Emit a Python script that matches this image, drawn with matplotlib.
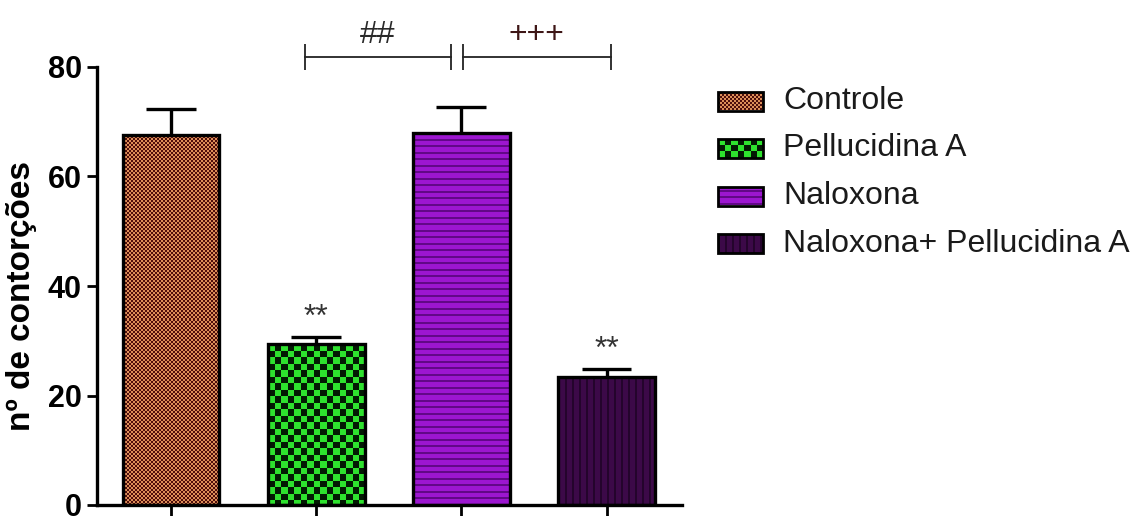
import numpy as np
import matplotlib
matplotlib.use("Agg")
import matplotlib.pyplot as plt
from matplotlib.patches import Rectangle

# ── data ──
groups = ["Controle", "Pellucidina A", "Naloxona", "Naloxona+ Pellucidina A"]
means = [67.6, 29.4, 68.0, 23.4]
sem = [4.7, 1.3, 4.7, 1.4]
stars = ["", "**", "", "**"]
# comparison brackets: (x start, x end, label)
brackets = [(0.92, 1.93, "##"), (2.01, 3.03, "+++")]
bracket_colors = ["#2a2a2a", "#3e1616"]
yticks = [0, 20, 40, 60, 80]
textures = ["check_fine", "check_big", "hlines", "vlines"]

BOLD_FONT = ["Liberation Sans Narrow", "Liberation Sans", "DejaVu Sans"]
TEXT_FONT = ["Liberation Sans", "DejaVu Sans"]


def texture_array(kind, w, h):
    """RGB pixel pattern used to fill a bar of w x h pixels."""
    r, c = np.mgrid[0:h, 0:w]
    img = np.zeros((h, w, 3))

    def put(mask, hexcol):
        img[mask] = np.array(matplotlib.colors.to_rgb(hexcol))

    if kind == "check_fine":
        m = ((r // 2 + c // 2) % 2) == 0
        put(m, "#dc8e58")
        put(~m, "#4e0e0c")
    elif kind == "check_big":
        m = ((np.floor(r / 6.5) + np.floor(c / 6.5)) % 2) == 0
        put(m, "#2ee22e")
        put(~m, "#031a03")
    elif kind == "hlines":
        m = (r % 6.5) < 1.6
        put(~m, "#9c16d0")
        put(m, "#620888")
    else:
        m = (c % 7) < 2
        put(~m, "#3c0948")
        put(m, "#24042c")
    return img


def fill_patch(ax, patch, kind, zorder):
    """Paint a pixel pattern inside a rectangle, clipped to it."""
    ext = patch.get_window_extent()
    w = max(int(round(ext.width)), 1)
    h = max(int(round(ext.height)), 1)
    x0, y0 = patch.get_x(), patch.get_y()
    x1, y1 = x0 + patch.get_width(), y0 + patch.get_height()
    im = ax.imshow(texture_array(kind, w, h), extent=(x0, x1, y0, y1),
                   origin="upper", interpolation="nearest", aspect="auto",
                   zorder=zorder)
    im.set_clip_path(patch)


fig = plt.figure(figsize=(11.32, 5.16), dpi=100)
ax = fig.add_axes([97 / 1132, 11 / 516, 585 / 1132, 438 / 516])

x = np.arange(len(groups))
ax.set_xlim(-0.51, 3.52)
ax.set_ylim(0, 80)

bars = ax.bar(x, means, width=0.667, facecolor="none", edgecolor="black",
              linewidth=2.4, zorder=3)
for b, kind in zip(bars, textures):
    fill_patch(ax, b, kind, zorder=2)
ax.set_xlim(-0.51, 3.52)
ax.set_ylim(0, 80)

# upper error bars (mean + SEM)
tops = np.array(means) + np.array(sem)
ax.vlines(x, means, tops, color="black", linewidth=2.4, zorder=4)
ax.hlines(tops, x - 0.172, x + 0.172, color="black", linewidth=2.4, zorder=4)

for xi, t, s in zip(x, tops, stars):
    if s:
        ax.text(xi, t + 2.0, s, ha="center", va="baseline", fontsize=23,
                color="#333333", family=TEXT_FONT)

# significance brackets above the plot area
for (xa, xb, lab), col in zip(brackets, bracket_colors):
    ax.plot([xa, xb], [81.8, 81.8], color="#222222", linewidth=1.3,
            clip_on=False)
    ax.vlines([xa, xb], 79.4, 84.2, color="#222222", linewidth=1.3,
              clip_on=False)
    ax.text((xa + xb) / 2, 84.3, lab, ha="center", va="baseline", fontsize=23,
            color=col, family=TEXT_FONT)

for side in ("top", "right"):
    ax.spines[side].set_visible(False)
for side in ("left", "bottom"):
    ax.spines[side].set_linewidth(2.4)
ax.set_xticks(x)
ax.set_xticklabels([])
ax.tick_params(axis="x", length=10, width=2.0, direction="out")
ax.set_yticks(yticks)
ax.set_yticklabels([str(v) for v in yticks], fontsize=22, fontweight="bold",
                   family=BOLD_FONT)
ax.tick_params(axis="y", length=7, width=2.0, pad=4)
ax.set_ylabel("nº de contorções", fontsize=24, fontweight="bold",
              family=TEXT_FONT)
ax.yaxis.set_label_coords(-0.102, 0.478)

# legend drawn in pixel space
lax = fig.add_axes([0, 0, 1, 1])
lax.set_xlim(0, 1132)
lax.set_ylim(516, 0)
lax.axis("off")
fig.canvas.draw()
for i, (name, kind) in enumerate(zip(groups, textures)):
    cy = 101 + i * 47.5
    rect = Rectangle((718, cy - 9.5), 45, 19, facecolor="none",
                     edgecolor="black", linewidth=2.0, zorder=3)
    lax.add_patch(rect)
    fill_patch(lax, rect, kind, zorder=2)
    lax.text(783, cy, name, ha="left", va="center", fontsize=23,
             color="#1a1a1a", family=TEXT_FONT)
lax.set_xlim(0, 1132)
lax.set_ylim(516, 0)

fig.savefig("out.png", dpi=100)
